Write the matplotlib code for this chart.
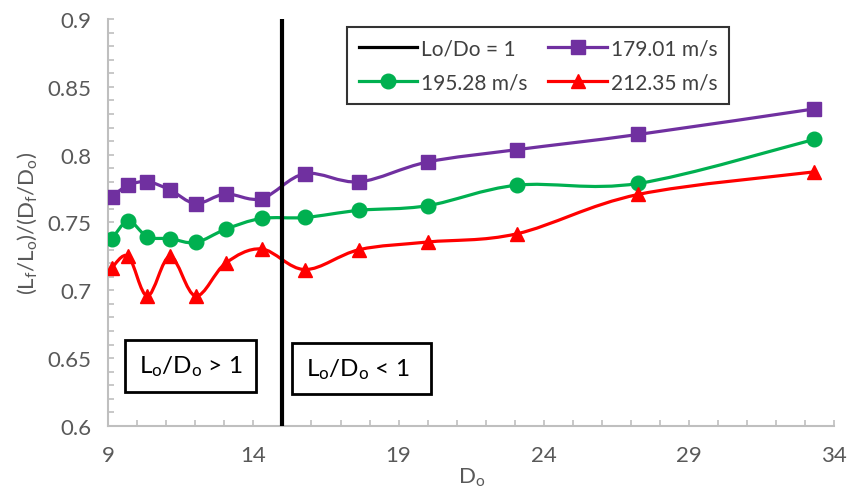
import numpy as np
import matplotlib
matplotlib.use("Agg")
import matplotlib.pyplot as plt
from matplotlib.path import Path
from matplotlib.patches import PathPatch
from matplotlib.lines import Line2D
from matplotlib.ticker import MultipleLocator

plt.rcParams['font.family'] = ['Lato', 'DejaVu Sans']
plt.rcParams['mathtext.fontset'] = 'custom'
plt.rcParams['mathtext.rm'] = 'Lato'
plt.rcParams['mathtext.it'] = 'Lato'

# D_o values and (Lf/Lo)/(Df/Do) for each jet velocity
d_o = [9.12, 9.69, 10.35, 11.13, 12.01, 13.04, 14.28, 15.78, 17.65, 20.0, 23.08, 27.26, 33.31]
v179 = [0.769, 0.7775, 0.780, 0.774, 0.764, 0.771, 0.7676, 0.786, 0.780, 0.7946, 0.8037, 0.8149, 0.8337]
v195 = [0.7378, 0.751, 0.7395, 0.738, 0.7353, 0.745, 0.753, 0.7537, 0.759, 0.7624, 0.7775, 0.7788, 0.8112]
v212 = [0.7166, 0.7251, 0.6958, 0.725, 0.6958, 0.720, 0.7305, 0.7153, 0.7300, 0.7356, 0.7417, 0.7707, 0.7873]
x_transition = 15

purple = '#7030A0'
green = '#00B050'
red = '#FF0000'


def smooth_path(x, y):
    # cubic Bezier segments through every point, Excel-style smoothing
    pts = np.column_stack([x, y])
    n = len(pts)
    verts = [pts[0]]
    codes = [Path.MOVETO]
    for i in range(n - 1):
        p0 = pts[i - 1] if i > 0 else pts[i]
        p1 = pts[i]
        p2 = pts[i + 1]
        p3 = pts[i + 2] if i + 2 < n else pts[i + 1]
        c1 = p1 + (p2 - p0) / 6.0
        c2 = p2 - (p3 - p1) / 6.0
        verts += [c1, c2, p2]
        codes += [Path.CURVE4] * 3
    return Path(verts, codes)


fig = plt.figure(figsize=(8.48, 4.89), dpi=100)
ax = fig.add_axes([0.1277, 0.1268, 0.8558, 0.8323])

series = [(v179, purple, 's', '179.01 m/s'),
          (v195, green, 'o', '195.28 m/s'),
          (v212, red, '^', '212.35 m/s')]
handles = {}
for vals, col, mk, lab in series:
    ax.add_patch(PathPatch(smooth_path(d_o, vals), fill=False, edgecolor=col,
                           lw=2.3, transform=ax.transData, zorder=3))
    ax.plot(d_o, vals, linestyle='none', marker=mk, color=col, ms=10.5, zorder=4)
    handles[lab] = Line2D([], [], color=col, lw=2.3, marker=mk, ms=10.5)

ax.axvline(x_transition, color='black', lw=3, zorder=5)
handles['Lo/Do = 1'] = Line2D([], [], color='black', lw=2.3)

ax.set_xlim(9, 34)
ax.set_ylim(0.6, 0.9)
ax.xaxis.set_minor_locator(MultipleLocator(1))
ax.yaxis.set_minor_locator(MultipleLocator(0.01))
ax.set_xticks([9, 14, 19, 24, 29, 34])
ax.set_yticks(np.round(np.arange(0.6, 0.901, 0.05), 2))
ax.set_yticklabels(['0.6', '0.65', '0.7', '0.75', '0.8', '0.85', '0.9'])

for s in ['top', 'right']:
    ax.spines[s].set_visible(False)
for s in ['left', 'bottom']:
    ax.spines[s].set_color('#bfbfbf')
    ax.spines[s].set_linewidth(1.5)
ax.tick_params(which='both', direction='in', color='#bfbfbf', width=1.2,
               length=4, labelsize=16, labelcolor='#595959')
ax.tick_params(axis='x', pad=14)
ax.tick_params(axis='y', pad=12)

ax.set_ylabel(r'(L$_\mathregular{f}$/L$_\mathregular{o}$)/(D$_\mathregular{f}$/D$_\mathregular{o}$)',
              fontsize=16, color='#595959', labelpad=6)
ax.set_xlabel(r'D$_\mathregular{o}$', fontsize=16, color='#595959', labelpad=0)

box = dict(boxstyle='square,pad=0.55', fc='white', ec='black', lw=2)
ax.text(10.05, 0.6442, r'L$_\mathregular{o}$/D$_\mathregular{o}$ > 1', fontsize=17.5,
        ha='left', va='center', bbox=box, zorder=6)
ax.text(15.8, 0.6424, r'L$_\mathregular{o}$/D$_\mathregular{o}$ < 1  ', fontsize=17.5,
        ha='left', va='center', bbox=box, zorder=6)

order = ['Lo/Do = 1', '195.28 m/s', '179.01 m/s', '212.35 m/s']
leg = ax.legend([handles[k] for k in order], order, ncol=2, loc='upper left',
                bbox_to_anchor=(0.329, 0.981), borderaxespad=0, fontsize=15,
                frameon=True, fancybox=False, edgecolor='black',
                handlelength=2.8, handletextpad=0.2, columnspacing=1.0,
                labelspacing=0.7, borderpad=0.55)
leg.get_frame().set_linewidth(1.5)
for t in leg.get_texts():
    t.set_color('#404040')

fig.savefig('out.png', dpi=100)
